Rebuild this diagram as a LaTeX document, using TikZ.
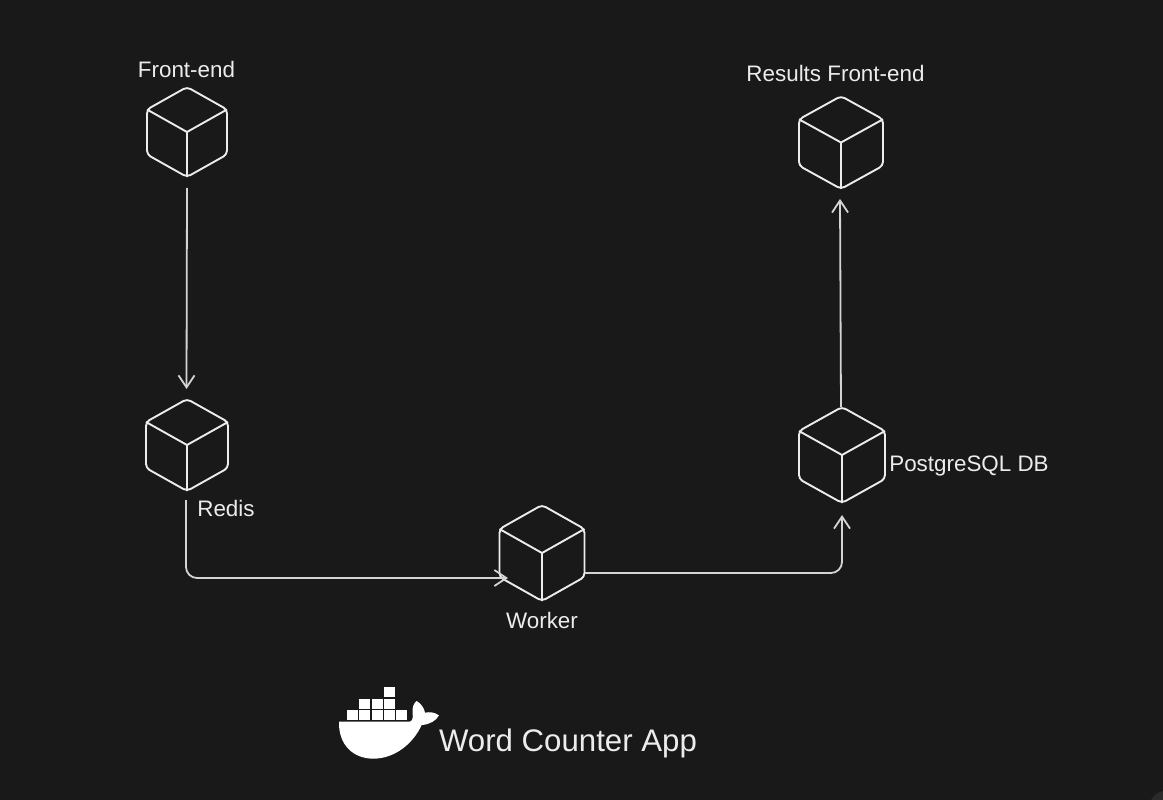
\documentclass[tikz,border=0pt]{standalone}
\usepackage{fontspec}
\setmainfont{Liberation Sans}
\usetikzlibrary{arrows.meta}
\definecolor{bgc}{HTML}{191919}
\definecolor{cornerc}{HTML}{2A2A2A}
\definecolor{ink}{HTML}{ECECEC}
\tikzset{
  cubeline/.style={draw=ink,line width=1.9pt,line join=round},
  cubebox/.style={inner sep=0pt,outer sep=0pt,rectangle},
  link/.style={draw=ink!90!black,line width=1.8pt,rounded corners=11pt,
    -{Straight Barb[length=12pt,width=16pt,line width=1.8pt]}},
  lab/.style={text=ink,font=\fontsize{22.4}{24}\selectfont,inner sep=0pt},
  whale/.style={fill=white,draw=none},
}
\newcommand{\cubeat}[5]{%
  \node[cubebox,minimum width=#4*2pt,minimum height=#5*4pt] (#1) at (#2,#3) {};
  \begin{scope}[shift={(#2,#3)},x=#4pt,y=-#5pt]
    \draw[cubeline,rounded corners=4pt] (0,-2) -- (1,-1) -- (1,1) -- (0,2) -- (-1,1) -- (-1,-1) -- cycle;
    \draw[cubeline] (-1,-1) -- (0,0) -- (1,-1) (0,0) -- (0,2);
  \end{scope}}
\begin{document}
\begin{tikzpicture}[x=1pt,y=-1pt]
\fill[bgc] (0,0) rectangle (1163,800);
\useasboundingbox (0,0) rectangle (1163,800);
\fill[cornerc] (1151,800) .. controls (1154,795) and (1158,792) .. (1163,791) -- (1163,800) -- cycle;
\cubeat{fe}{187}{132}{40}{22.5}
\cubeat{redis}{187}{445}{41}{23}
\cubeat{worker}{542}{553}{42.5}{24}
\cubeat{pg}{842}{455}{43}{24}
\cubeat{res}{841}{142.5}{42}{23.2}
\node[lab] (lfe) at (186.5,69) {Front-end};
\node[lab] (lres) at (835.5,73) {Results Front-end};
\node[lab] (lredis) at (226,508) {Redis};
\node[lab] (lworker) at (542,620) {Worker};
\node[lab] (lpg) at (969,466) {PostgreSQL DB};
\node[lab,font=\fontsize{31.2}{33}\selectfont] (lapp) at (568,743) {Word Counter App};
\coordinate (a1) at ([yshift=-11pt]fe.south);
\coordinate (a2) at ([xshift=-0.5pt,yshift=10pt]redis.north);
\draw[link] (a1) -- (a2);
\coordinate (b1) at ([xshift=-1pt,yshift=-9pt]redis.south);
\coordinate (b2) at (508,578);
\draw[link] (b1) -- (b1 |- b2) -- (b2);
\coordinate (c1) at (585,573);
\coordinate (c2) at ([yshift=-12pt]pg.south);
\draw[link] (c1) -- (c2 |- c1) -- (c2);
\coordinate (d1) at ([xshift=-1pt]pg.north);
\coordinate (d2) at ([xshift=-1pt,yshift=-10pt]res.south);
\draw[link] (d1) -- (d2);
\begin{scope}[shift={(320,670)},x=0.3333pt,y=-0.3333pt]
  \foreach \bx/\by in {82/120,118/120,155/120,192/120,229/120,118/86,155/86,192/86,192/52}
    \fill[whale] (\bx,\by) rectangle ++(33,30);
  \fill[whale] (57,155) -- (268,155)
    .. controls (276,155) and (280,145) .. (278,130)
    .. controls (276,115) and (280,100) .. (290,93)
    .. controls (303,100) and (313,115) .. (315,128)
    .. controls (328,125) and (345,127) .. (357,136)
    .. controls (349,152) and (328,164) .. (305,165)
    .. controls (280,220) and (225,266) .. (160,266)
    .. controls (100,266) and (55,225) .. (57,155) -- cycle;
\end{scope}
\end{tikzpicture}
\end{document}
